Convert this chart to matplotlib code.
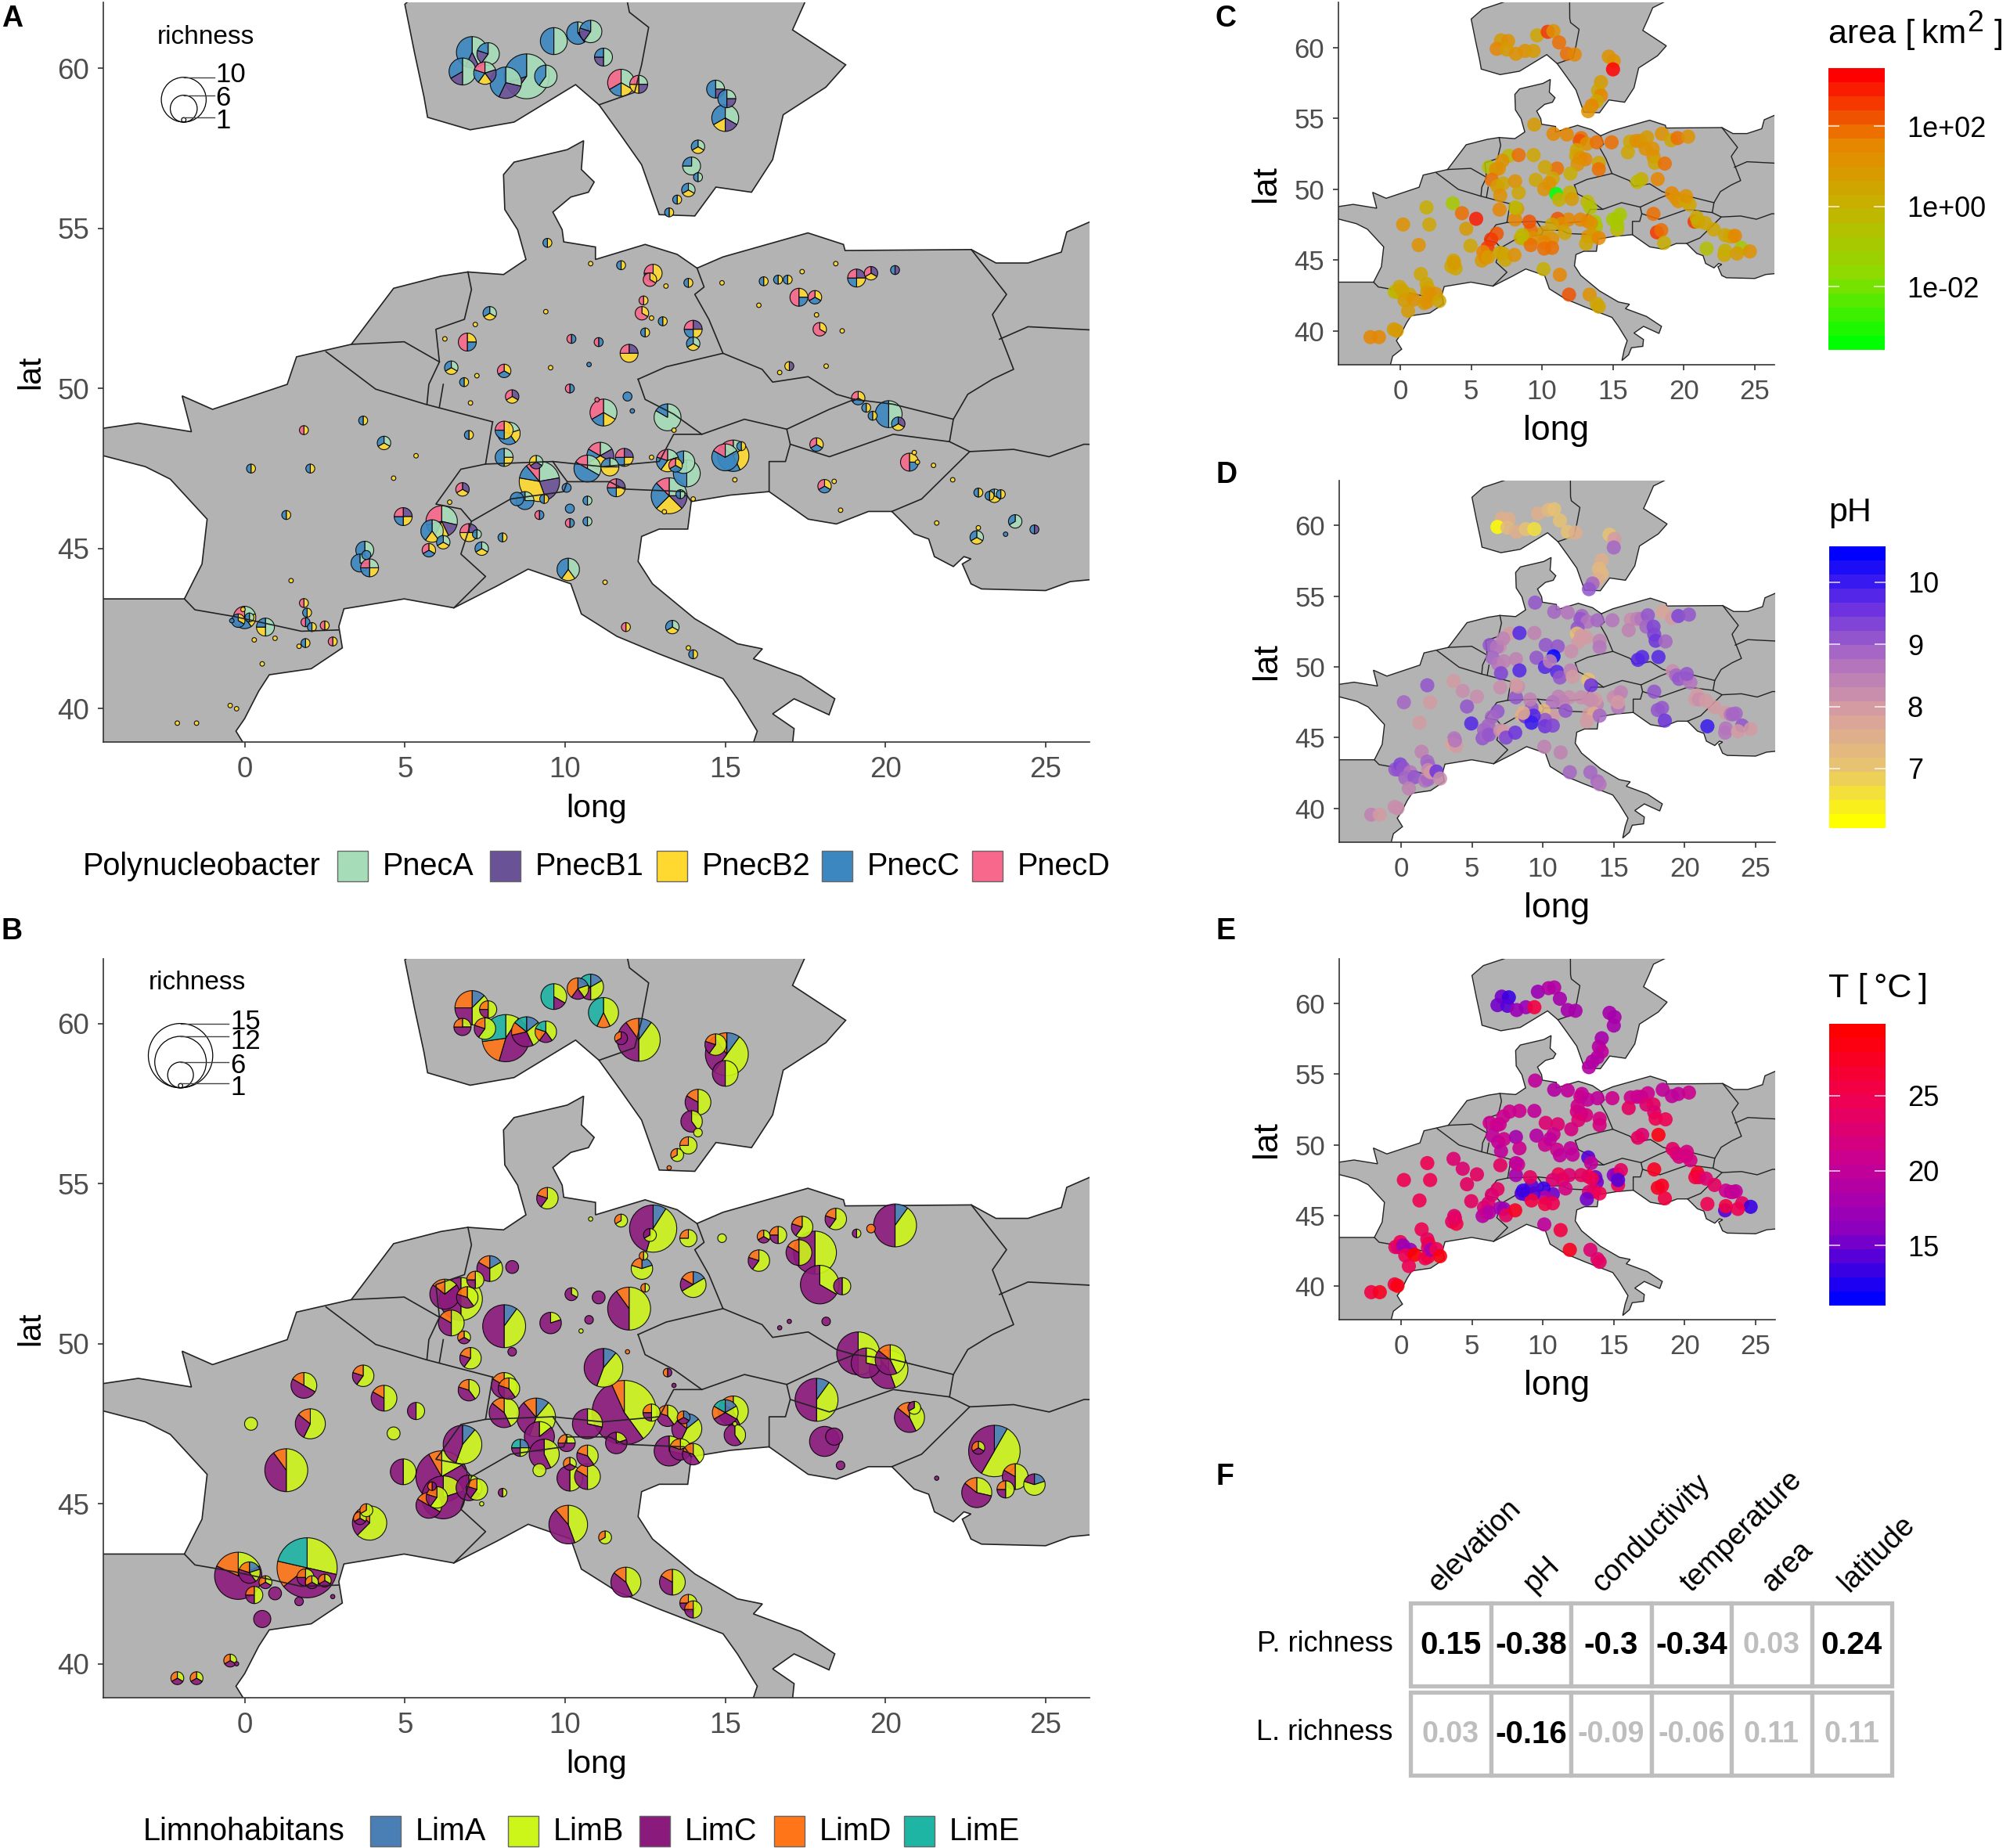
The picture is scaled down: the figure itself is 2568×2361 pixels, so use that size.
import matplotlib
matplotlib.use("Agg")
import matplotlib.pyplot as plt
from matplotlib.colors import LinearSegmentedColormap
from matplotlib.patches import Circle, Polygon, Rectangle, Wedge

plt.rcParams["font.family"] = ["Liberation Sans", "DejaVu Sans"]
plt.rcParams["mathtext.default"] = "regular"

W, H = 2568, 2361

# map outlines (long, lat)
scandinavia = [
    (7.6, 63.3), (5.8, 62.7), (5.0, 62.0), (5.3, 60.5), (5.6, 59.1), (5.71, 58.47), (7.04, 58.08),
    (8.41, 58.32), (10.33, 59.49), (11.06, 58.86), (11.73, 57.93), (12.39, 56.99), (12.94, 55.43),
    (14.05, 55.39), (14.71, 56.29), (15.82, 56.13), (16.48, 57.15), (16.81, 58.55), (18.14, 59.41),
    (18.76, 60.11), (17.1, 61.2), (17.48, 62.05), (17.8, 62.8), (18.8, 63.3),
]
mainland = [
    (8.52, 54.96), (8.12, 55.59), (8.08, 56.68), (8.41, 57.07), (10.07, 57.46), (10.58, 57.74),
    (10.51, 56.84), (10.91, 56.45), (10.73, 56.13), (10.18, 55.98), (9.62, 55.51), (9.91, 54.96),
    (9.96, 54.58), (10.95, 54.42), (10.95, 54.03), (12.5, 54.5), (13.5, 54.19), (14.12, 53.76),
    (14.93, 54.11), (17.58, 54.86), (18.69, 54.5), (18.74, 54.31), (22.68, 54.34), (23.45, 53.92),
    (24.45, 53.92), (25.49, 54.26), (25.66, 54.89), (26.6, 55.3), (26.6, 44.05), (25.77, 43.97),
    (25.0, 43.69), (23.0, 43.74), (22.67, 43.9), (22.4, 44.52), (22.67, 44.68), (22.45, 44.75),
    (22.12, 44.44), (21.53, 44.75), (21.35, 45.3), (20.9, 45.46), (20.2, 46.16), (19.47, 46.16),
    (18.47, 45.77), (17.59, 45.92), (16.37, 46.78), (15.15, 46.67), (13.94, 46.47), (13.83, 45.61),
    (12.94, 45.61), (12.39, 45.38), (12.28, 44.6), (12.73, 43.9), (14.05, 42.81), (15.38, 42.03),
    (16.16, 41.87), (15.88, 41.56), (17.36, 41.01), (18.42, 40.31), (18.24, 39.81), (17.15, 40.31),
    (16.48, 39.84), (17.15, 39.38), (17.1, 38.9), (16.3, 38.8), (16.1, 38.3), (15.63, 37.9),
    (15.8, 38.7), (16.0, 39.3), (15.38, 40.31), (14.93, 40.94), (12.94, 41.71), (11.62, 42.26),
    (10.51, 42.96), (10.18, 43.9), (8.85, 44.36), (7.85, 43.82), (6.53, 43.15), (4.98, 43.43),
    (3.1, 43.12), (2.94, 42.57), (3.05, 41.9), (2.08, 41.25), (0.77, 41.06), (0.44, 40.55),
    (0.0, 39.69), (-0.27, 39.3), (0.1, 38.7), (-0.54, 38.2), (-0.72, 37.5), (-4.6, 37.5),
    (-4.6, 43.43), (-1.88, 43.43), (-1.33, 44.52), (-1.17, 45.92), (-2.32, 47.17), (-3.1, 47.56),
    (-4.6, 47.95), (-4.6, 48.73), (-3.32, 48.92), (-1.66, 48.65), (-1.95, 49.77), (-1.0, 49.35),
    (1.33, 50.13), (1.62, 50.99), (3.33, 51.38), (4.65, 53.13), (6.13, 53.51), (6.97, 53.64),
    (8.08, 53.56), (8.78, 54.03),
]
borders = [
    [(11.94, 63.3), (11.95, 62.05), (12.01, 61.75), (12.61, 61.28), (12.39, 60.11), (12.17, 59.25), (11.06, 58.86)],
    [(-1.88, 43.43), (-1.55, 43.09), (-0.33, 42.88), (1.77, 42.42), (2.94, 42.46)],
    [(6.53, 43.15), (7.52, 44.13), (6.75, 44.83), (7.08, 45.85), (6.75, 46.24), (5.97, 46.39), (6.75, 47.48), (7.52, 47.64), (7.74, 48.96)],
    [(2.54, 51.15), (4.09, 49.98), (5.64, 49.51), (7.74, 48.96)],
    [(3.33, 51.38), (4.98, 51.46), (6.08, 50.83), (5.97, 51.85), (6.86, 52.16), (7.08, 53.09), (6.97, 53.64)],
    [(6.08, 50.83), (5.75, 50.13), (5.69, 49.51)],
    [(6.2, 50.13), (6.08, 49.43)],
    [(7.52, 47.64), (9.62, 47.72), (9.84, 47.4), (10.07, 47.09), (9.96, 46.78), (8.3, 46.55), (7.08, 45.85)],
    [(9.62, 47.72), (11.17, 47.56), (12.94, 47.72), (13.39, 48.57), (14.27, 48.57)],
    [(10.07, 47.09), (11.39, 47.09), (11.84, 46.86), (13.72, 46.78), (13.94, 46.47)],
    [(12.28, 50.29), (13.16, 50.68), (14.93, 51.1), (16.15, 50.6), (16.48, 50.2), (17.59, 50.37), (18.47, 49.82), (19.03, 49.66)],
    [(19.03, 49.66), (18.25, 49.35), (16.92, 48.73), (15.6, 49.04), (14.27, 48.57), (13.39, 49.2), (12.5, 49.66), (12.28, 50.29)],
    [(14.12, 53.76), (14.34, 53.17), (14.05, 52.94), (14.49, 52.16), (14.93, 51.1)],
    [(19.03, 49.66), (20.24, 49.51), (22.12, 49.04), (22.57, 49.82), (23.34, 50.29), (24.0, 50.6), (23.34, 52.31), (23.78, 52.94), (22.68, 54.34)],
    [(23.56, 51.54), (24.45, 51.93), (26.6, 51.82)],
    [(16.92, 48.73), (17.03, 48.26), (18.25, 47.87), (20.24, 48.57), (22.0, 48.34), (22.12, 49.04)],
    [(22.0, 48.34), (22.63, 48.03), (21.13, 46.55), (20.2, 46.16)],
    [(22.63, 48.03), (24.0, 48.1), (25.11, 47.87), (26.2, 48.26), (26.6, 48.25)],
    [(17.03, 48.26), (16.88, 47.72), (16.37, 47.72), (16.37, 46.78)],
]

# sampled lakes, same order in every list below
site_long = [
    7.1, 7.6, 6.8, 7.5, 8.15, 8.8, 9.4, 9.65,
    10.4, 10.8, 11.2, 11.75, 12.3, 14.7, 15.05, 15.0,
    14.15, 13.95, 14.15, 13.85, 13.5, 13.25, 9.45, 10.8,
    11.75, 12.75, 12.65, 13.15, 13.85, 12.45, 12.4, 12.7,
    13.05, 14.0, 14.0, 12.5, 12.0, 11.05, 10.2, 9.4,
    7.65, 8.35, 6.95, 6.25, 6.75, 7.2, 6.45, 6.85,
    7.25, 8.1, 9.55, 10.75, 10.15, 10.5, 7.05, 8.35,
    11.0, 11.2, 11.95, 12.1, 13.2, 13.4, 14.9, 16.2,
    16.65, 16.95, 17.4, 18.45, 19.1, 19.55, 20.3, 17.3,
    17.8, 16.05, 17.85, 17.95, 18.65, 17.0, 18.15, 16.7,
    19.15, 19.4, 19.6, 20.1, 20.4, 20.15, 15.25, 15.0,
    15.5, 15.3, 13.8, 13.7, 13.2, 13.45, 12.7, 11.85,
    11.1, 11.4, 10.7, 11.6, 13.25, 13.6, 14.0, 13.1,
    10.7, 10.05, 10.15, 10.15, 10.7, 9.2, 9.1, 8.1,
    8.25, 8.1, 7.0, 8.5, 8.75, 9.35, 9.2, 8.6,
    6.8, 6.15, 4.95, 5.85, 5.75, 6.0, 6.2, 6.4,
    7.0, 7.25, 7.4, 8.05, 10.1, 11.25, 11.9, 13.35,
    13.85, 14.0, 3.7, 1.85, 4.35, 5.35, 0.2, 2.05,
    4.65, 1.3, 3.75, 3.6, 3.9, 3.8, 1.45, 1.85,
    1.95, -0.2, 0.0, -0.4, -0.05, 0.15, 0.65, 0.3,
    0.95, 1.7, 1.9, 1.9, 2.1, 2.5, 2.75, 0.55,
    -0.45, -0.25, -2.1, -1.5, 17.85, 18.1, 18.4, 18.6,
    20.75, 20.9, 21.0, 21.6, 22.9, 23.25, 23.4, 23.6,
    24.05, 24.65, 22.85, 22.9, 23.75, 21.5, 22.1, 15.3,
]
site_lat = [
    60.5, 60.45, 59.9, 59.85, 59.55, 59.75, 59.75, 60.85,
    61.1, 61.15, 60.35, 59.55, 59.5, 59.35, 59.05, 58.45,
    57.55, 56.95, 56.6, 56.2, 55.9, 55.5, 54.55, 53.9,
    53.85, 53.6, 53.4, 53.2, 53.3, 52.75, 52.35, 52.2,
    52.1, 51.85, 51.4, 51.75, 51.1, 51.45, 51.55, 52.4,
    52.35, 52.4, 51.45, 51.55, 51.4, 52.0, 50.65, 50.2,
    50.4, 50.55, 50.65, 50.75, 50.0, 50.4, 49.55, 49.75,
    49.65, 49.25, 49.75, 49.3, 49.1, 48.7, 53.3, 53.35,
    53.4, 53.4, 53.65, 53.9, 53.45, 53.6, 53.7, 52.85,
    52.85, 52.6, 52.3, 51.85, 51.8, 50.7, 50.7, 50.5,
    49.7, 49.4, 49.15, 49.2, 48.9, 49.5, 47.9, 47.85,
    48.2, 47.15, 47.35, 47.7, 47.75, 47.6, 47.85, 47.85,
    47.9, 47.55, 47.5, 46.9, 46.65, 46.7, 46.55, 46.15,
    46.5, 46.9, 46.25, 45.8, 45.85, 47.1, 47.7, 47.85,
    48.6, 48.7, 48.55, 46.55, 46.5, 46.55, 46.05, 46.75,
    46.85, 45.85, 46.0, 45.55, 44.95, 45.2, 45.2, 46.45,
    45.5, 45.45, 45.0, 45.35, 44.35, 43.95, 42.55, 42.55,
    41.9, 41.7, 49.0, 48.7, 48.3, 47.9, 47.5, 47.5,
    47.2, 46.05, 44.95, 44.55, 44.4, 44.8, 44.0, 43.3,
    43.0, 42.75, 42.85, 42.75, 43.1, 42.85, 42.55, 42.15,
    42.2, 41.95, 42.05, 42.7, 42.55, 42.6, 42.1, 41.4,
    40.1, 40.0, 39.55, 39.55, 48.25, 46.95, 47.1, 46.2,
    47.7, 48.0, 47.7, 45.8, 46.75, 46.65, 46.65, 46.7,
    45.85, 45.6, 45.35, 45.65, 45.45, 47.6, 47.15, 47.5,
]
# OTU counts per lineage, one digit per PnecA, B1, B2, C, D
pnec_counts = """
31030 31010 31020 11111 22030 61030 30020 30030
11030 31010 21010 20112 11101 11020 11020 21120
10110 30010 10010 10110 00110 00110 00110 00100
00110 00211 00102 00100 00110 00101 00102 00100
00110 01111 10110 00110 01201 00011 00011 00100
10110 00000 00112 00100 00000 00100 10110 00110
00100 00111 00100 00010 00011 00000 00100 01101
00001 20112 00020 00010 50010 00100 00100 00110
00110 00110 00100 00100 01111 01101 01010 00112
00111 00100 00100 00102 00100 01100 00100 00100
00111 00110 00110 30030 01110 00000 10231 10041
00110 00100 30030 30020 10211 00111 00100 01111
11211 10210 20031 01111 21221 10010 00100 00100
10010 00020 00020 00011 10010 22311 11100 10120
10121 00211 00110 00030 10030 00110 00011 00000
01101 21112 01111 20120 00111 00000 10110 00100
01201 10010 10110 00110 20120 00100 00101 10110
00100 00110 00110 00101 10110 00100 00110 00110
00100 00110 20020 10030 10111 00020 00100 00101
00110 00120 10112 00010 00100 10010 20110 00100
00100 00100 00110 00011 00110 00101 00101 00100
00100 00100 00100 00100 00111 00111 00100 00100
00112 00100 00100 00100 00110 00110 10110 00110
20010 01010 10110 00100 00010 00100 00100 00000
""".split()
# one digit per LimA, B, C, D, E
lim_counts = """
13220 02110 01210 03110 01523 12211 02111 02103
11120 12111 03013 00210 14410 03110 15310 03300
03210 02300 02000 03010 02010 00010 03110 01000
02010 15500 02100 00000 03010 01010 13010 00000
00000 13110 00000 01010 05410 00300 01200 00000
12210 00300 02210 01510 05500 02110 03210 01110
00000 14500 01400 00200 00000 01000 03110 00200
00000 14400 00010 00000 00110 00100 02000 01110
02110 00000 03110 03110 01100 00020 14500 03210
05500 03110 00000 03600 02200 00100 00200 00100
05500 02500 00000 04410 00000 03310 03310 11211
00000 02300 13210 10110 02210 00000 02110 06810
00000 00000 02500 01400 02500 01310 02210 00000
02210 01210 01110 03300 03210 01600 14310 03310
02210 03210 02210 00000 00000 03400 03000 11101
14400 02910 03300 00110 02310 03110 02800 00000
02400 03110 01000 01100 04410 02010 03310 03210
02110 02110 03110 02310 03210 02200 03000 04210
03000 05410 00000 01110 05210 02010 00000 00000
04523 02720 00000 00000 00000 11210 01110 02110
00300 00200 00000 02110 01110 01110 00100 00400
01110 00100 01110 01110 14500 00700 00400 00200
03310 02100 00000 00100 01110 00000 16500 00000
03210 13100 02410 00000 02110 00000 00000 01000
""".split()
area_log10 = [
    0.8, 1.0, 1.4, 0.9, 1.0, 1.0, 0.9, 0.3,
    2.5, 1.3, 1.8, 1.7, 1.5, 1.0, 1.0, 3.4,
    0.8, 0.3, 1.5, 0.6, 1.5, 1.0, 0.8, 1.6,
    1.4, 2.0, 2.2, 1.2, 1.8, 0.6, 0.5, 1.0,
    1.6, 0.4, 1.9, 1.0, 0.0, 1.9, 0.4, 0.5,
    -0.3, 1.8, 1.2, -0.5, 1.2, 1.0, 1.8, 0.7,
    0.5, 1.3, 0.3, 0.5, 1.0, 1.0, 1.1, 0.5,
    -3.3, 0.0, 0.0, 0.9, -0.3, -0.5, 1.7, 0.5,
    1.0, 1.0, 0.7, 1.0, 0.4, 2.0, 1.0, 1.0,
    1.2, 0.5, 1.0, 0.5, 2.0, 0.0, 1.5, -0.2,
    1.5, 1.3, 1.0, 0.5, 0.3, 1.1, -1.0, -0.8,
    -1.0, -0.2, -0.5, -0.8, 1.5, 1.0, 1.6, 1.5,
    2.3, 1.2, 0.5, 0.4, 1.0, 0.8, 1.6, 0.5,
    1.3, 0.7, 1.5, 1.9, 2.0, 2.0, 2.3, 1.4,
    0.8, -0.3, 1.6, 0.3, -0.1, 1.0, 2.0, -0.2,
    2.2, 2.4, 0.4, 1.6, 0.8, 1.4, 0.9, 2.5,
    0.4, 0.6, 0.5, 1.2, 0.0, 1.4, 2.2, 1.0,
    0.3, 0.5, -0.9, 0.0, 1.8, 3.0, 1.2, 0.3,
    0.8, 1.3, 0.4, 0.5, 0.4, 0.9, 0.6, 0.6,
    0.5, 0.6, -0.3, -0.2, 0.3, 0.5, 0.6, 0.8,
    1.0, 0.8, 1.3, 0.7, 1.2, 1.0, 0.4, 0.7,
    0.8, 0.9, 1.5, 1.5, 1.9, 2.5, 1.7, 0.2,
    2.5, 0.3, 0.0, -0.7, 0.6, 0.5, 0.6, 1.5,
    -0.8, 1.0, 0.3, 0.2, 0.7, 0.4, 0.6, -0.9,
]
ph_values = [
    7.5, 7.6, 6.0, 7.3, 7.5, 7.0, 6.5, 7.6,
    7.3, 7.0, 7.0, 7.0, 7.5, 7.0, 8.0, 8.8,
    7.5, 7.2, 7.4, 7.5, 8.8, 9.0, 9.1, 8.8,
    8.7, 8.8, 9.0, 8.6, 8.9, 9.0, 7.0, 8.0,
    8.0, 8.5, 8.6, 8.0, 8.2, 9.0, 9.2, 8.4,
    8.0, 9.8, 8.3, 9.0, 8.6, 8.4, 8.9, 8.6,
    8.5, 8.4, 9.2, 10.5, 9.8, 8.5, 9.3, 9.8,
    9.8, 9.2, 8.5, 8.0, 7.0, 9.5, 8.6, 8.3,
    8.5, 8.7, 9.0, 7.8, 7.9, 9.3, 9.0, 8.8,
    9.3, 8.4, 9.4, 9.5, 8.8, 9.8, 9.8, 9.8,
    8.3, 8.9, 9.2, 8.8, 8.6, 9.2, 8.3, 8.3,
    8.5, 8.6, 8.5, 8.0, 8.3, 8.2, 8.3, 8.3,
    8.4, 8.5, 8.6, 9.0, 8.0, 7.5, 8.8, 8.0,
    8.0, 7.3, 9.0, 9.6, 9.3, 9.0, 8.5, 9.0,
    8.2, 8.0, 8.2, 7.5, 9.5, 9.7, 9.9, 7.5,
    9.0, 8.8, 9.8, 8.9, 9.0, 8.9, 9.0, 8.8,
    8.2, 8.0, 9.4, 9.5, 8.4, 8.4, 8.9, 8.9,
    8.8, 8.7, 8.0, 9.1, 8.2, 8.2, 8.9, 8.0,
    9.0, 7.9, 8.7, 7.7, 8.0, 8.6, 8.5, 8.8,
    8.9, 9.3, 9.4, 9.0, 9.4, 9.2, 8.7, 8.9,
    9.0, 8.6, 8.8, 8.2, 8.0, 9.6, 8.3, 8.5,
    8.3, 8.2, 8.4, 8.0, 9.2, 9.2, 9.1, 9.5,
    7.9, 8.0, 8.1, 10.0, 8.0, 8.7, 8.8, 8.8,
    9.2, 7.9, 8.7, 8.6, 8.0, 8.0, 8.0, 8.0,
]
temp_values = [
    15, 13, 15, 14, 17, 17, 26, 17,
    19, 19, 18, 18, 18, 18, 18, 18,
    18, 19, 20, 19, 19, 19, 20, 19,
    20, 20, 21, 20, 20, 21, 22, 21,
    22, 22, 22, 23, 22, 23, 23, 20,
    21, 21, 21, 21, 21, 21, 20, 20,
    21, 18, 19, 21, 21, 20, 20, 21,
    21, 20, 20, 20, 14, 20, 21, 21,
    21, 21, 21, 20, 20, 20, 21, 23,
    24, 24, 23, 25, 25, 23, 28, 24,
    24, 23, 22, 22, 22, 22, 21, 16,
    24, 25, 15, 15, 25, 25, 24, 23,
    25, 24, 23, 22, 23, 24, 25, 15,
    15, 13, 19, 26, 25, 14, 24, 18,
    21, 20, 24, 14, 14, 14, 26, 13,
    24, 23, 24, 23, 19, 22, 19, 23,
    18, 17, 24, 27, 20, 26, 27, 23,
    23, 24, 23, 25, 23, 24, 25, 25,
    24, 25, 23, 24, 26, 24, 25, 24,
    26, 16, 16, 24, 25, 17, 17, 25,
    29, 25, 26, 24, 18, 25, 28, 25,
    26, 28, 26, 27, 27, 27, 27, 26,
    26, 27, 26, 25, 21, 20, 21, 20,
    24, 13, 14, 26, 25, 23, 24, 14,
]

pnec_names = ["PnecA", "PnecB1", "PnecB2", "PnecC", "PnecD"]
pnec_colors = ["#A6DDB8", "#6A5296", "#FFD92F", "#3C87C0", "#F8688C"]
lim_names = ["LimA", "LimB", "LimC", "LimD", "LimE"]
lim_colors = ["#4A7FB5", "#CCF51A", "#8B1A7D", "#FF7518", "#1FB5A5"]

corr_columns = ["elevation", "pH", "conductivity", "temperature", "area", "latitude"]
corr_rows = ["P. richness", "L. richness"]
corr_values = [
    ["0.15", "-0.38", "-0.3", "-0.34", "0.03", "0.24"],
    ["0.03", "-0.16", "-0.09", "-0.06", "0.11", "0.11"],
]
corr_significant = [
    [True, True, True, True, False, True],
    [False, True, False, False, False, False],
]

fig = plt.figure(figsize=(W / 100, H / 100), dpi=100)


def px_axes(left, top, right, bottom):
    return fig.add_axes([left / W, 1 - bottom / H, (right - left) / W, (bottom - top) / H])


def draw_map(ax, xlim, ylim, tick_size, label_size, lw=1.2):
    ax.add_patch(Polygon(scandinavia, closed=True, fc="#B3B3B3", ec="#222222", lw=lw))
    ax.add_patch(Polygon(mainland, closed=True, fc="#B3B3B3", ec="#222222", lw=lw))
    for line in borders:
        ax.plot([p[0] for p in line], [p[1] for p in line], color="#222222", lw=lw)
    ax.set_xlim(xlim)
    ax.set_ylim(ylim)
    ax.set_xticks(range(0, 30, 5))
    ax.set_yticks(range(40, 65, 5))
    ax.tick_params(labelsize=tick_size, labelcolor="#4D4D4D", color="#333333", length=5, width=1.2, pad=8)
    ax.spines["top"].set_visible(False)
    ax.spines["right"].set_visible(False)
    ax.spines["left"].set_linewidth(1.2)
    ax.spines["bottom"].set_linewidth(1.2)
    ax.spines["left"].set_color("#333333")
    ax.spines["bottom"].set_color("#333333")
    ax.set_xlabel("long", fontsize=label_size, labelpad=9)
    ax.set_ylabel("lat", fontsize=label_size, labelpad=11)


def draw_pies(ax, counts, colors, scale):
    order = sorted(range(len(counts)), key=lambda i: -sum(int(c) for c in counts[i]))
    for i in order:
        values = [int(c) for c in counts[i]]
        total = sum(values)
        if total == 0:
            continue
        angle = 90.0
        for v, col in zip(values, colors):
            if v == 0:
                continue
            step = 360.0 * v / total
            ax.add_patch(Wedge((site_long[i], site_lat[i]), scale * total, angle - step, angle,
                               fc=col, ec="black", lw=0.8, alpha=0.9))
            angle -= step


def size_legend(ax, title, title_xy, cx, bottom, scale, sizes, label_lats, line_end):
    ax.text(title_xy[0], title_xy[1], title, fontsize=24, ha="left", va="center")
    for s, y in zip(sizes, label_lats):
        r = scale * s
        ax.add_patch(Circle((cx, bottom + r), r, fc="none", ec="black", lw=0.9))
        ax.plot([cx, line_end], [bottom + 2 * r, bottom + 2 * r], color="#444444", lw=1.0)
        ax.text(line_end + 0.05, y, str(s), fontsize=25, ha="left", va="center")


def colorbar(sc, left, top, ticks, labels):
    cax = px_axes(left, top, left + 72, top + 360)
    cbar = fig.colorbar(sc, cax=cax)
    cbar.solids.set_alpha(1.0)
    cbar.outline.set_visible(False)
    cbar.set_ticks(ticks)
    cbar.set_ticklabels(labels)
    cax.tick_params(length=0, labelsize=26, pad=20)
    cax.hlines(ticks, 0.0, 0.2, transform=cax.get_yaxis_transform(), color="white", lw=1.2, alpha=0.8)
    cax.hlines(ticks, 0.8, 1.0, transform=cax.get_yaxis_transform(), color="white", lw=1.2, alpha=0.8)


# panels A and B
xlim_big = (-4.41, 26.37)
ax_a = px_axes(132, 3, 1392, 948)
draw_map(ax_a, xlim_big, (38.96, 62.06), 26.5, 29.5)
draw_pies(ax_a, pnec_counts, pnec_colors, 0.07)
size_legend(ax_a, "richness", (-2.72, 60.96), -1.9, 58.32, 0.07, [10, 6, 1], [59.8, 59.07, 58.35], -0.95)

ax_b = px_axes(132, 1225, 1392, 2169)
draw_map(ax_b, xlim_big, (38.94, 62.03), 26.5, 29.5)
draw_pies(ax_b, lim_counts, lim_colors, 0.067)
size_legend(ax_b, "richness", (-3.0, 61.28), -2.0, 58.0, 0.067, [15, 12, 6, 1], [60.07, 59.44, 58.69, 58.0], -0.5)

# panels C, D, E
xlim_small = (-4.36, 26.38)
ylim_small = (37.6, 63.18)
area_cmap = LinearSegmentedColormap.from_list(
    "area", ["#00FF00", "#8CDC00", "#C4B400", "#E88400", "#FF0000"], N=20)
ph_cmap = LinearSegmentedColormap.from_list(
    "ph", ["#FFFF00", "#E8C470", "#D8A0A0", "#B070C0", "#6A30E0", "#0000FF"], N=20)
temp_cmap = LinearSegmentedColormap.from_list(
    "temp", ["#0000FF", "#8A00C0", "#C80096", "#F00050", "#FF0000"], N=20)

ax_c = px_axes(1710, 3, 2267, 466)
draw_map(ax_c, xlim_small, ylim_small, 25, 32, lw=1.0)
sc_c = ax_c.scatter(site_long, site_lat, c=area_log10, cmap=area_cmap, vmin=-3.58, vmax=3.45,
                    s=170, linewidths=0, alpha=0.85, zorder=3)
colorbar(sc_c, 2336, 87, [-2, 0, 2], ["1e-02", "1e+00", "1e+02"])

ax_d = px_axes(1711, 614, 2268, 1076)
draw_map(ax_d, xlim_small, ylim_small, 25, 32, lw=1.0)
sc_d = ax_d.scatter(site_long, site_lat, c=ph_values, cmap=ph_cmap, vmin=6.04, vmax=10.58,
                    s=170, linewidths=0, alpha=0.85, zorder=3)
colorbar(sc_d, 2337, 698, [7, 8, 9, 10], ["7", "8", "9", "10"])

ax_e = px_axes(1711, 1225, 2268, 1686)
draw_map(ax_e, xlim_small, ylim_small, 25, 32, lw=1.0)
sc_e = ax_e.scatter(site_long, site_lat, c=temp_values, cmap=temp_cmap, vmin=11.0, vmax=29.8,
                    s=170, linewidths=0, alpha=0.9, zorder=3)
colorbar(sc_e, 2337, 1308, [15, 20, 25], ["15", "20", "25"])

# overlay in figure pixels for letters, legends and colourbar titles
ov = fig.add_axes([0, 0, 1, 1], zorder=-1)
ov.set_xlim(0, W)
ov.set_ylim(H, 0)
ov.axis("off")
for letter, x, y in [("A", 2, 24), ("B", 2, 1190), ("C", 1553, 24), ("D", 1553, 607),
                     ("E", 1553, 1190), ("F", 1553, 1887)]:
    ov.text(x, y, letter, fontsize=27, fontweight="bold", ha="left", va="center")

ov.text(2336, 44, "area [\u2009km", fontsize=31, ha="left", va="center")
ov.text(2513, 30, "2", fontsize=27, ha="left", va="center")
ov.text(2548, 44, "]", fontsize=31, ha="left", va="center")
ov.text(2336, 655, "pH", fontsize=31, ha="left", va="center")
ov.text(2336, 1263, "T [\u2009°C\u2009]", fontsize=31, ha="left", va="center")


def species_legend(title, title_x, y, swatch_x, names, colors):
    ov.text(title_x, y, title, fontsize=28.5, ha="left", va="center")
    for x, name, col in zip(swatch_x, names, colors):
        ov.add_patch(Rectangle((x, y - 20), 39, 39, fc=col, ec="#666666", lw=1.0))
        ov.text(x + 58, y, name, fontsize=28.5, ha="left", va="center")


species_legend("Polynucleobacter", 106, 1107, [431, 626, 839, 1050, 1242], pnec_names, pnec_colors)
species_legend("Limnohabitans", 183, 2340, [473, 649, 817, 989, 1155], lim_names, lim_colors)

# panel F, correlation table
ax_f = px_axes(1802, 2048, 2417, 2268)
ax_f.set_xlim(0, 6)
ax_f.set_ylim(2.07, 0)
ax_f.axis("off")
for row, (name, values, signif) in enumerate(zip(corr_rows, corr_values, corr_significant)):
    top = row * 1.07
    for col, (val, strong) in enumerate(zip(values, signif)):
        ax_f.add_patch(Rectangle((col, top), 1, 1, fc="white", ec="#BEBEBE", lw=3.8, clip_on=False))
        ax_f.text(col + 0.5, top + 0.51, val, ha="center", va="center", fontsize=29 if strong else 27,
                  fontweight="bold", color="black" if strong else "#BEBEBE")
    ax_f.text(-0.22, top + 0.49, name, ha="right", va="center", fontsize=26)
label_offsets = [0.41, 0.6, 0.45, 0.55, 0.57, 0.52]
for col, (name, off) in enumerate(zip(corr_columns, label_offsets)):
    ax_f.text(col + off, -0.07, name, rotation=45, rotation_mode="anchor", ha="left", va="bottom",
              fontsize=27, clip_on=False)

fig.savefig("out.png", dpi=100)
